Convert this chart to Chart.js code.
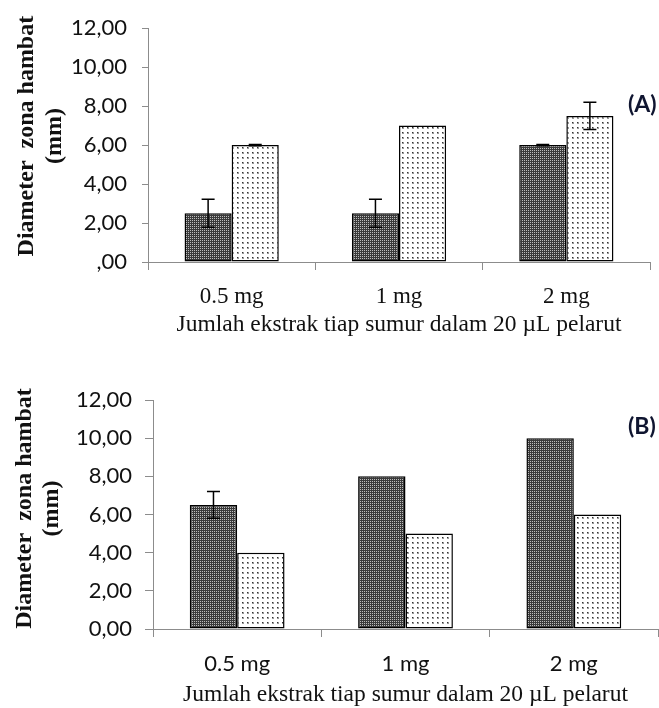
<!DOCTYPE html>
<html>
<head>
<meta charset="utf-8">
<script src="https://cdn.jsdelivr.net/npm/chart.js@4/dist/chart.umd.min.js"></script>
<style>
  html, body { margin: 0; padding: 0; background: #ffffff; }
  #wrap { position: relative; width: 659px; height: 708px; overflow: hidden; background: #fff; }
  canvas { position: absolute; left: 0; }
  #cA { top: 0; }
  #cB { top: 355px; }
  .panel { position: absolute; font-family: Lato, "Open Sans", sans-serif; font-weight: 700; font-size: 23px; line-height: 28px; color: #0f1530; }
</style>
</head>
<body>
<div id="wrap">
  <canvas id="cA" width="659" height="345"></canvas>
  <canvas id="cB" width="659" height="353"></canvas>
  <div class="panel" style="left:628px; top:89px;">(A)</div>
  <div class="panel" style="left:628px; top:411px;">(B)</div>
</div>
<script>
// ---- data ----
const categories = ['0.5 mg', '1 mg', '2 mg'];

const seriesA1 = [2.5, 2.5, 6.0];
const errorA1  = [0.72, 0.72, 0.03];
const seriesA2 = [6.0, 7.0, 7.5];
const errorA2  = [0.03, null, 0.7];

const seriesB1 = [6.5, 8.0, 10.0];
const errorB1  = [0.7, null, null];
const seriesB2 = [4.0, 5.0, 6.0];
const errorB2  = [null, null, null];

const yTickLabelsA = [',00', '2,00', '4,00', '6,00', '8,00', '10,00', '12,00'];
const yTickLabelsB = ['0,00', '2,00', '4,00', '6,00', '8,00', '10,00', '12,00'];

const xTitle = 'Jumlah ekstrak tiap sumur dalam 20 \u00B5L pelarut';
const yTitleA = ['   Diameter  zona hambat', '   (mm)'];
const yTitleB = ['  Diameter  zona hambat', '  (mm)'];

// ---- patterns ----
function darkPattern() {
  const c = document.createElement('canvas');
  c.width = 2; c.height = 2;
  const g = c.getContext('2d');
  g.fillStyle = '#3a3a3a'; g.fillRect(0, 0, 2, 2);
  g.fillStyle = '#bdbdbd'; g.fillRect(0, 0, 1, 1);
  return g.createPattern(c, 'repeat');
}
function dotPattern() {
  const c = document.createElement('canvas');
  c.width = 5; c.height = 5;
  const g = c.getContext('2d');
  g.fillStyle = '#ffffff'; g.fillRect(0, 0, 5, 5);
  g.fillStyle = '#9a9a9a'; g.fillRect(2, 2, 2, 2);
  g.fillStyle = '#333333'; g.fillRect(2, 2, 1, 1);
  return g.createPattern(c, 'repeat');
}

// ---- error bar plugin ----
const errorBars = {
  id: 'errorBars',
  afterDatasetsDraw(chart) {
    const ctx = chart.ctx;
    const yScale = chart.scales.y;
    chart.data.datasets.forEach((ds, i) => {
      const errs = ds.errors || [];
      const meta = chart.getDatasetMeta(i);
      meta.data.forEach((bar, j) => {
        const e = errs[j];
        if (e === null || e === undefined) return;
        const v = ds.data[j];
        const yT = yScale.getPixelForValue(v + e);
        const yB = yScale.getPixelForValue(v - e);
        const x = bar.x;
        const hw = 6.5;
        ctx.save();
        ctx.strokeStyle = '#000';
        ctx.lineWidth = 1.5;
        ctx.beginPath();
        ctx.moveTo(x, yT); ctx.lineTo(x, yB);
        ctx.moveTo(x - hw, yT); ctx.lineTo(x + hw, yT);
        ctx.moveTo(x - hw, yB); ctx.lineTo(x + hw, yB);
        ctx.stroke();
        ctx.restore();
      });
    });
  }
};

const axisGray = '#8c8c8c';

function makeChart(id, s1, e1, s2, e2, yLabels, yTitle, cfg) {
  return new Chart(document.getElementById(id), {
    type: 'bar',
    data: {
      labels: categories,
      datasets: [
        { label: 'Seri 1', data: s1, errors: e1, backgroundColor: darkPattern(), borderColor: '#000', borderWidth: 1.5, borderSkipped: false },
        { label: 'Seri 2', data: s2, errors: e2, backgroundColor: dotPattern(), borderColor: '#000', borderWidth: 1.5, borderSkipped: false }
      ]
    },
    plugins: [errorBars],
    options: {
      responsive: false,
      animation: false,
      devicePixelRatio: 1,
      layout: { padding: { left: 0, top: cfg.padTop, right: cfg.padRight, bottom: 0 } },
      plugins: { legend: { display: false }, tooltip: { enabled: false } },
      datasets: { bar: { barPercentage: 1.0, categoryPercentage: 0.563 } },
      scales: {
        x: {
          offset: true,
          grid: { display: true, drawOnChartArea: false, drawTicks: true, tickLength: 8, color: axisGray, offset: true },
          border: { display: true, color: axisGray, width: 1 },
          ticks: { color: '#111', padding: cfg.xTickPad, font: cfg.xTickFont },
          title: { display: true, text: xTitle, color: '#111', padding: { top: 0, bottom: cfg.xTitlePadBottom },
                   font: { family: '"Liberation Serif", "Times New Roman", serif', size: 23.5, lineHeight: 1.0 } },
          afterFit(scale) { scale.height = cfg.xHeight; }
        },
        y: {
          min: 0, max: 12,
          ticks: { stepSize: 2, color: '#111', padding: cfg.yTickPad,
                   font: { family: 'Lato, "Open Sans", sans-serif', size: 22 },
                   callback: (v, i) => yLabels[i] },
          grid: { display: true, drawOnChartArea: false, drawTicks: true, tickLength: cfg.yTickLen, color: axisGray },
          border: { display: true, color: axisGray, width: 1 },
          title: { display: true, text: yTitle, color: '#111', padding: { top: cfg.yTitlePad, bottom: 0 },
                   font: { family: '"Liberation Serif", "Times New Roman", serif', size: 24, weight: 'bold', lineHeight: cfg.yTitleLH } },
          afterFit(scale) { scale.width = cfg.yWidth; }
        }
      }
    }
  });
}

makeChart('cA', seriesA1, errorA1, seriesA2, errorA2, yTickLabelsA, yTitleA, {
  padTop: 17, padRight: 9, xHeight: 83, yWidth: 148,
  xTickPad: 13, xTitlePadBottom: 8,
  xTickFont: { family: '"Liberation Serif", "Times New Roman", serif', size: 23, lineHeight: 1.2 },
  yTickPad: 15, yTickLen: 6, yTitlePad: 12, yTitleLH: 1.2
});

makeChart('cB', seriesB1, errorB1, seriesB2, errorB2, yTickLabelsB, yTitleB, {
  padTop: 45, padRight: 1, xHeight: 79, yWidth: 153,
  xTickPad: 14, xTitlePadBottom: 1,
  xTickFont: { family: 'Lato, "Open Sans", sans-serif', size: 22, lineHeight: 1.2 },
  yTickPad: 13, yTickLen: 8, yTitlePad: 12, yTitleLH: 1.1
});
</script>
</body>
</html>
